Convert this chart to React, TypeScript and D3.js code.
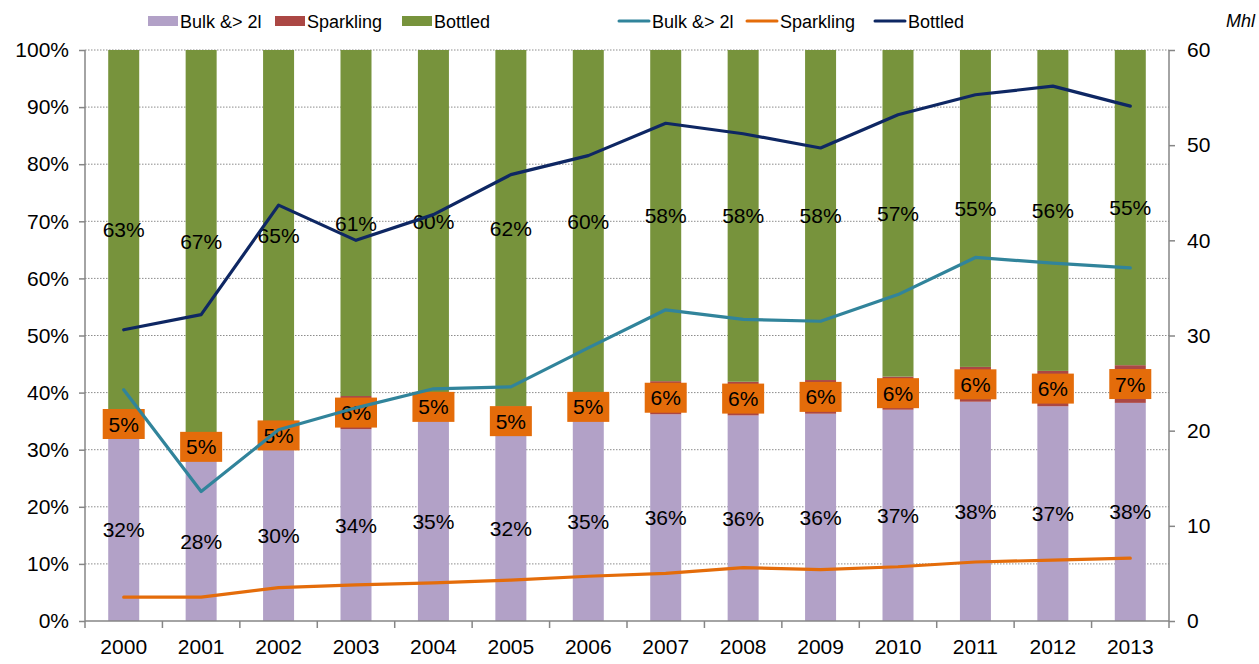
import React, { useRef, useEffect } from 'react';
import * as d3 from 'd3';

// categories
const years = ['2000', '2001', '2002', '2003', '2004', '2005', '2006', '2007', '2008', '2009', '2010', '2011', '2012', '2013'];

// shares (%) for the 100% stacked bars
const bulkShare = [32, 28, 30, 33.6, 35, 32.4, 35, 36.2, 36, 36.3, 37, 38.4, 37.6, 38.2];
const sparklingShare = [5, 5, 5, 5.8, 5, 5.2, 5, 5.8, 5.9, 5.9, 5.8, 6.1, 6.2, 6.6];
const bottledShare = [63, 67, 65, 60.6, 60, 62.4, 60, 58, 58.1, 57.8, 57.2, 55.5, 56.2, 55.2];

// labels printed on the bars
const bulkLabels = ['32%', '28%', '30%', '34%', '35%', '32%', '35%', '36%', '36%', '36%', '37%', '38%', '37%', '38%'];
const sparklingLabels = ['5%', '5%', '5%', '6%', '5%', '5%', '5%', '6%', '6%', '6%', '6%', '6%', '6%', '7%'];
const bottledLabels = ['63%', '67%', '65%', '61%', '60%', '62%', '60%', '58%', '58%', '58%', '57%', '55%', '56%', '55%'];

// volumes (Mhl), right axis
const bulkMhl = [24.3, 13.6, 20.1, 22.4, 24.4, 24.6, 28.7, 32.7, 31.7, 31.5, 34.3, 38.2, 37.6, 37.1];
const sparklingMhl = [2.5, 2.5, 3.5, 3.8, 4.0, 4.3, 4.7, 5.0, 5.6, 5.4, 5.7, 6.2, 6.4, 6.6];
const bottledMhl = [30.6, 32.2, 43.7, 40.0, 42.7, 46.9, 48.9, 52.3, 51.2, 49.7, 53.2, 55.3, 56.2, 54.1];

const leftTicks = [0, 10, 20, 30, 40, 50, 60, 70, 80, 90, 100];
const rightTicks = [0, 10, 20, 30, 40, 50, 60];

const FONT = '"Liberation Sans", Arial, sans-serif';
const colors = {
  bulk: '#B2A1C7',
  sparkling: '#AB4744',
  bottled: '#77933C',
  bulkLine: '#31849B',
  sparklingLine: '#E46C0A',
  bottledLine: '#0E2763',
  labelBox: '#E46C0A',
};

const App = () => {
  const svgRef = useRef<SVGSVGElement>(null);

  useEffect(() => {
    document.body.style.margin = '0';
    d3.select(svgRef.current).selectAll('*').remove();

    const W = 1259, H = 664;
    const svg = d3.select(svgRef.current)
      .attr('width', W)
      .attr('height', H)
      .style('display', 'block')
      .style('font-family', FONT);

    const left = 85, right = 1169, top = 50, bottom = 621;

    const xOuter = d3.scaleBand().domain(years).range([left, right]);
    const yPct = d3.scaleLinear().domain([0, 100]).range([bottom, top]);
    const yMhl = d3.scaleLinear().domain([0, 60]).range([bottom, top]);

    // gridlines
    svg.append('g')
      .selectAll('line')
      .data(leftTicks.filter(t => t > 0))
      .enter()
      .append('line')
      .attr('x1', left).attr('x2', right)
      .attr('y1', d => yPct(d)).attr('y2', d => yPct(d))
      .attr('stroke', '#8c8c8c')
      .attr('stroke-width', 1)
      .attr('stroke-dasharray', '1.5,1.5');

    // stacked bars
    const rows = years.map((yr, i) => ({
      year: yr,
      bulk: bulkShare[i],
      sparkling: sparklingShare[i],
      bottled: bottledShare[i],
    }));
    const stack = d3.stack<any>()
      .keys(['bulk', 'sparkling', 'bottled'])
      .offset(d3.stackOffsetExpand);
    const series = stack(rows);

    const barX = (yr: string) => xOuter(yr)! + xOuter.bandwidth() / 2 - 15.5;

    svg.append('g')
      .selectAll('g')
      .data(series)
      .enter()
      .append('g')
      .attr('fill', d => (colors as any)[d.key])
      .selectAll('rect')
      .data(d => d)
      .enter()
      .append('rect')
      .attr('x', d => barX(d.data.year))
      .attr('width', 31)
      .attr('y', d => yPct(d[1] * 100))
      .attr('height', d => yPct(d[0] * 100) - yPct(d[1] * 100));

    // bar labels
    const labelSets: { [k: string]: string[] } = {
      bulk: bulkLabels,
      sparkling: sparklingLabels,
      bottled: bottledLabels,
    };
    series.forEach(s => {
      const g = svg.append('g');
      s.forEach((d, i) => {
        const cx = xOuter(d.data.year)! + xOuter.bandwidth() / 2;
        const cy = yPct((d[0] + d[1]) * 50);
        if (s.key === 'sparkling') {
          g.append('rect')
            .attr('x', cx - 21)
            .attr('y', cy - 15)
            .attr('width', 42)
            .attr('height', 30)
            .attr('fill', colors.labelBox);
        }
        g.append('text')
          .attr('x', cx)
          .attr('y', cy)
          .attr('dy', '0.36em')
          .attr('text-anchor', 'middle')
          .attr('font-size', 21)
          .attr('fill', '#000')
          .text(labelSets[s.key][i]);
      });
    });

    // lines
    const cxOf = (i: number) => xOuter(years[i])! + xOuter.bandwidth() / 2;
    const line = d3.line<number>()
      .x((_, i) => cxOf(i))
      .y(d => yMhl(d));

    [
      { data: bulkMhl, color: colors.bulkLine },
      { data: sparklingMhl, color: colors.sparklingLine },
      { data: bottledMhl, color: colors.bottledLine },
    ].forEach(l => {
      svg.append('path')
        .datum(l.data)
        .attr('fill', 'none')
        .attr('stroke', l.color)
        .attr('stroke-width', 3.2)
        .attr('stroke-linejoin', 'round')
        .attr('stroke-linecap', 'round')
        .attr('d', line);
    });

    // axes
    const axisColor = '#868686';
    const leftAxis = svg.append('g')
      .attr('transform', `translate(${left},0)`)
      .call(d3.axisLeft(yPct).tickValues(leftTicks).tickSize(6).tickFormat(d => `${d}%`));
    const rightAxis = svg.append('g')
      .attr('transform', `translate(${right},0)`)
      .call(d3.axisRight(yMhl).tickValues(rightTicks).tickSize(6).tickFormat(d3.format('d')));
    [leftAxis, rightAxis].forEach(a => {
      a.select('.domain').attr('stroke', axisColor).attr('stroke-width', 1.5).attr('d', `M0,${top}V${bottom}`);
      a.selectAll('.tick line').attr('stroke', axisColor).attr('stroke-width', 1.5);
      a.selectAll('text')
        .attr('font-family', FONT)
        .attr('font-size', 21)
        .attr('fill', '#000');
    });
    leftAxis.selectAll('text').attr('x', -16);
    rightAxis.selectAll('text').attr('x', 18);

    // bottom axis with ticks between categories
    const bottomG = svg.append('g');
    bottomG.append('line')
      .attr('x1', left).attr('x2', right)
      .attr('y1', bottom).attr('y2', bottom)
      .attr('stroke', axisColor).attr('stroke-width', 1.5);
    bottomG.selectAll('line.tk')
      .data([...years.map(yr => xOuter(yr)!), right])
      .enter()
      .append('line')
      .attr('class', 'tk')
      .attr('x1', d => d).attr('x2', d => d)
      .attr('y1', bottom).attr('y2', bottom + 7)
      .attr('stroke', axisColor).attr('stroke-width', 1.5);
    bottomG.selectAll('text')
      .data(years)
      .enter()
      .append('text')
      .attr('x', d => xOuter(d)! + xOuter.bandwidth() / 2)
      .attr('y', 654)
      .attr('text-anchor', 'middle')
      .attr('font-size', 21)
      .attr('fill', '#000')
      .text(d => d);

    // legend
    const legend = svg.append('g').attr('font-size', 18);
    const boxItems = [
      { label: 'Bulk &> 2l', color: colors.bulk, x: 148 },
      { label: 'Sparkling', color: colors.sparkling, x: 275 },
      { label: 'Bottled', color: colors.bottled, x: 402 },
    ];
    boxItems.forEach(it => {
      legend.append('rect')
        .attr('x', it.x).attr('y', 16).attr('width', 30).attr('height', 10)
        .attr('fill', it.color);
      legend.append('text')
        .attr('x', it.x + 32).attr('y', 28)
        .attr('fill', '#000')
        .text(it.label);
    });
    const lineItems = [
      { label: 'Bulk &> 2l', color: colors.bulkLine, x: 619 },
      { label: 'Sparkling', color: colors.sparklingLine, x: 747 },
      { label: 'Bottled', color: colors.bottledLine, x: 875 },
    ];
    lineItems.forEach(it => {
      legend.append('line')
        .attr('x1', it.x).attr('x2', it.x + 30)
        .attr('y1', 21).attr('y2', 21)
        .attr('stroke', it.color).attr('stroke-width', 3)
        .attr('stroke-linecap', 'round');
      legend.append('text')
        .attr('x', it.x + 33).attr('y', 28)
        .attr('fill', '#000')
        .text(it.label);
    });

    svg.append('text')
      .attr('x', 1255).attr('y', 27)
      .attr('text-anchor', 'end')
      .attr('font-size', 18)
      .attr('font-style', 'italic')
      .attr('fill', '#000')
      .text('Mhl');
  }, []);

  return <svg ref={svgRef}></svg>;
};

export default App;
